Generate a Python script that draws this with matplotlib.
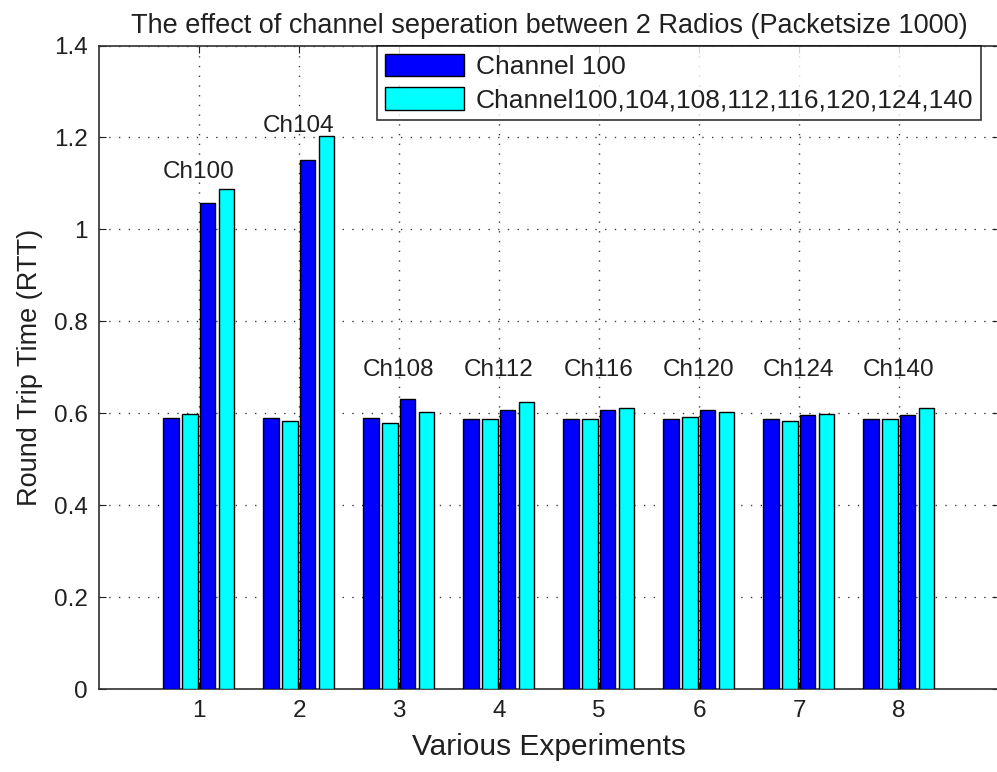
import numpy as np
import matplotlib
matplotlib.use("Agg")
import matplotlib.pyplot as plt

plt.rcParams['font.family'] = ['Liberation Sans', 'DejaVu Sans']

# ---------------- data ----------------
experiments = [1, 2, 3, 4, 5, 6, 7, 8]
ch_labels = ['Ch100', 'Ch104', 'Ch108', 'Ch112', 'Ch116', 'Ch120', 'Ch124', 'Ch140']
ch_label_y = [1.112, 1.212, 0.682, 0.682, 0.682, 0.682, 0.682, 0.682]

# single radio on channel 100 (two runs) / second radio on the swept channel (two runs)
base_blue = [0.589, 0.589, 0.589, 0.588, 0.588, 0.588, 0.588, 0.588]
base_cyan = [0.598, 0.583, 0.579, 0.588, 0.588, 0.592, 0.583, 0.588]
sweep_blue = [1.057, 1.151, 0.630, 0.608, 0.608, 0.608, 0.596, 0.596]
sweep_cyan = [1.087, 1.203, 0.603, 0.625, 0.612, 0.603, 0.599, 0.612]

legend_labels = ['Channel 100', 'Channel100,104,108,112,116,120,124,140']

# ---------------- figure ----------------
fig = plt.figure(figsize=(9.97, 7.72), dpi=100)
ax = fig.add_axes([99 / 997, 1 - 689 / 772, 900 / 997, (689 - 45.5) / 772])

x = np.array(experiments, dtype=float)
w = 0.155
blue = '#0000ff'
cyan = '#00ffff'
kw = dict(edgecolor='black', linewidth=1.0, zorder=3)

ax.bar(x - 0.28, base_blue, w, color=blue, label=legend_labels[0], **kw)
ax.bar(x - 0.09, base_cyan, w, color=cyan, label=legend_labels[1], **kw)
ax.bar(x + 0.085, sweep_blue, w, color=blue, label='_nolegend_', **kw)
ax.bar(x + 0.275, sweep_cyan, w, color=cyan, label='_nolegend_', **kw)

for xi, lab, yy in zip(experiments, ch_labels, ch_label_y):
    ax.text(xi, yy, lab, ha='center', va='baseline', fontsize=17.5, color='#202020')

ax.set_xlim(0, 9)
ax.set_ylim(0, 1.4)
ax.set_xticks(experiments)
ax.set_yticks(np.arange(0, 1.41, 0.2))
ax.set_yticklabels(['0', '0.2', '0.4', '0.6', '0.8', '1', '1.2', '1.4'])

ax.grid(True, linestyle=(0, (1, 6)), color='#404040', linewidth=1.0)
ax.set_axisbelow(True)
ax.tick_params(direction='in', length=5, top=True, right=True, labelsize=17.5,
               colors='#202020', pad=8)
for sp in ax.spines.values():
    sp.set_color('#303030')
    sp.set_linewidth(1.2)

ax.set_title('The effect of channel seperation between 2 Radios (Packetsize 1000)',
             fontsize=19.5, pad=9, color='#202020')
ax.set_xlabel('Various Experiments', fontsize=21.5, labelpad=8, color='#202020')
ax.set_ylabel('Round Trip Time (RTT)', fontsize=19.5, labelpad=8, color='#202020')

leg = ax.legend(loc='upper left', bbox_to_anchor=(377 / 997, 1 - 45.7 / 772),
                bbox_transform=fig.transFigure, fontsize=19, frameon=True,
                fancybox=False, handlelength=3.0, handleheight=0.95,
                borderpad=0.3, labelspacing=0.3, handletextpad=0.45,
                borderaxespad=0)
leg.get_frame().set_edgecolor('black')
leg.get_frame().set_linewidth(1.2)
for t in leg.get_texts():
    t.set_color('#202020')

fig.savefig('out.png', dpi=100)
